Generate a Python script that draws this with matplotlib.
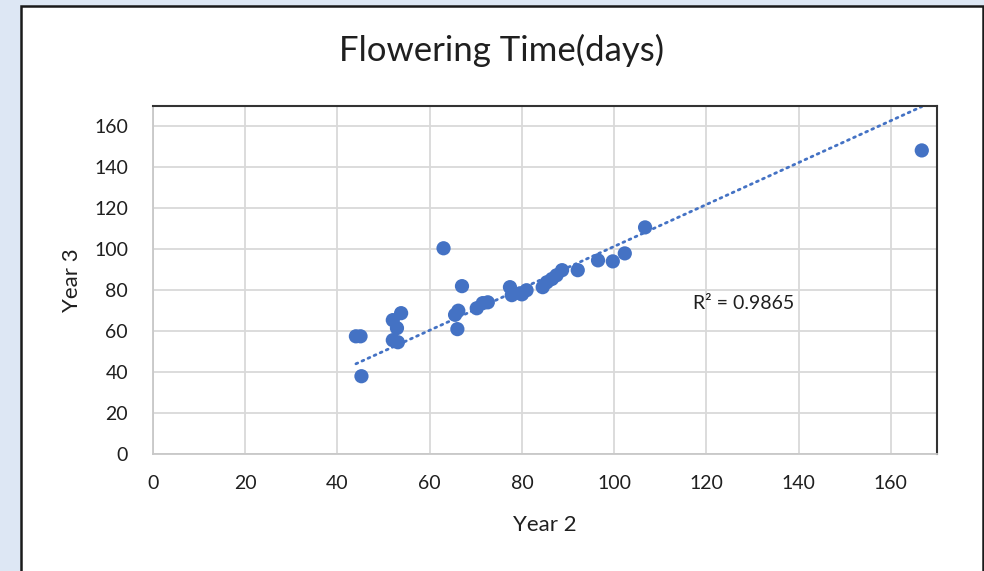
import matplotlib
matplotlib.use("Agg")
import matplotlib.pyplot as plt
from matplotlib.patches import Rectangle
import numpy as np

plt.rcParams['font.family'] = ['Lato', 'DejaVu Sans']

# ---- data ----
year2 = [44.0, 45.0, 45.2, 53.8, 52.0, 52.9, 52.0, 53.1, 63.0, 67.0, 65.5, 66.2,
         66.0, 70.2, 71.5, 72.6, 77.4, 77.8, 79.6, 81.0, 80.0, 84.5, 85.4, 86.5,
         87.5, 88.7, 92.1, 96.5, 99.7, 102.3, 106.7, 166.7]
year3 = [57.5, 57.5, 38.0, 68.8, 65.4, 61.5, 55.6, 54.6, 100.5, 82.0, 68.0, 70.0,
         61.0, 71.2, 73.7, 74.1, 81.5, 77.6, 78.5, 80.0, 78.0, 81.5, 83.9, 85.5,
         87.3, 89.8, 89.8, 94.6, 94.1, 98.0, 110.7, 148.3]
trend_slope = 1.024
trend_intercept = -1.0
r2_label = "R² = 0.9865"
title = "Flowering Time(days)"
xlabel = "Year 2"
ylabel = "Year 3"
ticks = [0, 20, 40, 60, 80, 100, 120, 140, 160]

BLUE = "#4472c4"
TXT = "#1f1f1f"

fig = plt.figure(figsize=(9.84, 5.71), dpi=100)
fig.patch.set_facecolor("#dde7f4")
# chart frame
fig.patches.append(Rectangle((21 / 984, -0.05), (983 - 21) / 984, 1.05 - 6 / 571,
                             transform=fig.transFigure, facecolor="white",
                             edgecolor="#1a1a1a", linewidth=1.8, zorder=-5))

ax = fig.add_axes([153 / 984, 1 - 454 / 571, (937 - 153) / 984, (454 - 106) / 571])
ax.set_xlim(0, 170)
ax.set_ylim(0, 170)
ax.set_xticks(ticks)
ax.set_yticks(ticks)
ax.grid(True, color="#d9d9d9", linewidth=1.3)
ax.set_axisbelow(True)
ax.tick_params(length=0, labelsize=14, colors=TXT)
ax.tick_params(axis='y', pad=18)
ax.tick_params(axis='x', pad=15)
for s in ("left", "bottom"):
    ax.spines[s].set_color("#c8c8c8")
    ax.spines[s].set_linewidth(1.3)
for s in ("top", "right"):
    ax.spines[s].set_color("#333333")
    ax.spines[s].set_linewidth(1.5)

ax.scatter(year2, year3, s=105, color=BLUE, edgecolors="none", zorder=3)

xs = np.array([min(year2), max(year2)])
ax.plot(xs, trend_slope * xs + trend_intercept, color=BLUE, linewidth=2.0,
        linestyle=(0, (0.7, 1.7)), dash_capstyle="round", zorder=2)

ax.text(117, 73.7, r2_label, fontsize=14, color=TXT, ha="left", va="center")

ax.set_xlabel(xlabel, fontsize=16, color=TXT)
ax.set_ylabel(ylabel, fontsize=16, color=TXT)
ax.xaxis.set_label_coords(0.5, (454 - 515) / 348)
ax.yaxis.set_label_coords((82 - 153) / 784, 0.5)

fig.text(502 / 984, 1 - 50 / 571, title, fontsize=25, color=TXT, ha="center", va="center")

fig.savefig("out.png", dpi=100, facecolor=fig.get_facecolor())
